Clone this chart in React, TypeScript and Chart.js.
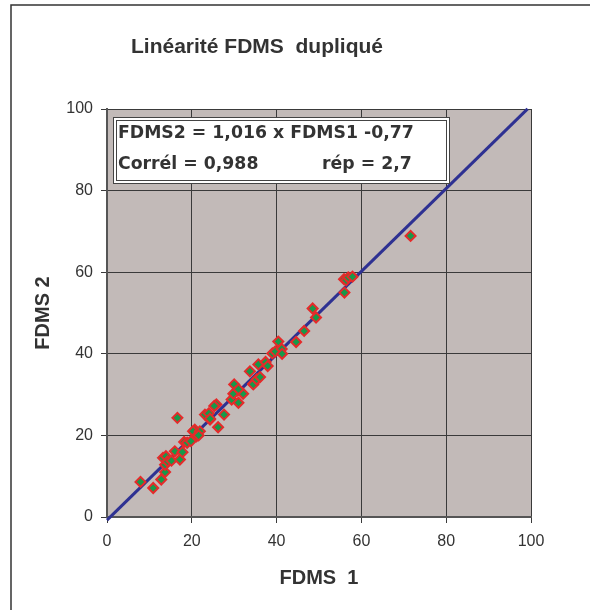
import React, { useEffect, useRef } from "react";
import { Chart, registerables } from "chart.js";

Chart.register(...registerables);

const fdms1: number[] = [7.9, 10.9, 12.8, 13.7, 13.7, 13.2, 13.9, 14.3, 15.2, 16.0, 17.2, 17.8, 16.6, 18.2, 18.9, 19.8, 20.7, 20.3, 21.1, 21.9, 21.6, 23.1, 24.3, 24.0, 25.8, 25.3, 26.2, 27.6, 24.3, 29.4, 31.0, 30.0, 30.7, 29.8, 32.1, 31.0, 34.5, 34.5, 35.3, 36.1, 33.7, 35.7, 37.4, 37.9, 39.0, 39.7, 40.4, 41.2, 41.3, 44.6, 46.5, 48.5, 49.3, 55.9, 56.4, 56.9, 57.9, 56.0, 71.6];
const fdms2: number[] = [8.6, 7.1, 9.2, 11.0, 12.8, 14.5, 14.9, 13.6, 13.8, 16.1, 14.1, 15.9, 24.3, 18.4, 18.2, 18.6, 21.4, 21.0, 19.8, 21.0, 20.0, 25.1, 23.9, 25.4, 27.6, 27.2, 22.0, 25.1, 24.1, 28.8, 28.0, 32.5, 31.0, 30.2, 30.2, 31.3, 32.7, 32.5, 33.7, 34.3, 35.7, 37.4, 38.0, 37.0, 40.1, 40.6, 43.0, 41.2, 40.0, 42.9, 45.6, 51.1, 48.9, 58.3, 58.0, 58.7, 58.9, 55.0, 68.9];

const slope = 1.016;
const intercept = -0.77;
const lineX: number[] = [0, 99.2];

const title = "Linéarité FDMS  dupliqué";
const xTitle = "FDMS  1";
const yTitle = "FDMS 2";
const boxLine1 = "FDMS2 = 1,016 x FDMS1 -0,77";
const boxLine2a = "Corrél = 0,988";
const boxLine2b = "rép = 2,7";
const axisTicks: number[] = [0, 20, 40, 60, 80, 100];

const decorPlugin = {
  id: "decor",
  beforeDraw(chart: any) {
    const ctx = chart.ctx;
    ctx.save();
    ctx.fillStyle = "#ffffff";
    ctx.fillRect(0, 0, chart.width, chart.height);
    ctx.strokeStyle = "#333333";
    ctx.lineWidth = 1.5;
    ctx.strokeRect(11, 5, 700, 700);
    const a = chart.chartArea;
    ctx.fillStyle = "#C2BAB8";
    ctx.fillRect(a.left, a.top, a.right - a.left, a.bottom - a.top);
    ctx.restore();
  },
  afterDraw(chart: any) {
    const ctx = chart.ctx;
    const a = chart.chartArea;
    ctx.save();
    ctx.fillStyle = "#333333";
    ctx.textAlign = "center";
    ctx.textBaseline = "middle";
    ctx.font = "bold 21px 'Liberation Sans', Arial, sans-serif";
    ctx.fillText(title, 257, 47);
    ctx.font = "bold 20px 'Liberation Sans', Arial, sans-serif";
    ctx.fillText(xTitle, (a.left + a.right) / 2, 578);
    ctx.translate(43, (a.top + a.bottom) / 2);
    ctx.rotate(-Math.PI / 2);
    ctx.fillText(yTitle, 0, 0);
    ctx.restore();

    // text box
    ctx.save();
    const bx = 113, by = 117, bw = 336, bh = 66;
    ctx.fillStyle = "#ffffff";
    ctx.fillRect(bx, by, bw, bh);
    ctx.strokeStyle = "#444444";
    ctx.lineWidth = 1;
    ctx.strokeRect(bx + 0.5, by + 0.5, bw, bh);
    ctx.strokeRect(bx + 3.5, by + 3.5, bw - 6, bh - 6);
    ctx.fillStyle = "#333333";
    ctx.font = "bold 17.3px 'DejaVu Sans', Verdana, sans-serif";
    ctx.textAlign = "left";
    ctx.textBaseline = "middle";
    ctx.fillText(boxLine1, 118, 134);
    ctx.fillText(boxLine2a, 118, 165);
    ctx.fillText(boxLine2b, 322, 165);
    ctx.restore();
  },
};

export default function App() {
  const ref = useRef<HTMLCanvasElement | null>(null);
  useEffect(() => {
    if (!ref.current) return;
    const points = fdms1.map((x, i) => ({ x, y: fdms2[i] }));
    const line = lineX.map((x) => ({ x, y: slope * x + intercept }));
    const chart = new Chart(ref.current, {
      type: "scatter",
      data: {
        datasets: [
          {
            type: "line",
            data: line,
            borderColor: "#2E3192",
            borderWidth: 3,
            pointRadius: 0,
            fill: false,
            order: 2,
            clip: false as any,
          },
          {
            data: points,
            pointStyle: "rectRot",
            pointRadius: 5,
            backgroundColor: "#17994A",
            borderColor: "#E52A2A",
            borderWidth: 2,
            order: 1,
          },
        ],
      },
      options: {
        responsive: false,
        animation: false,
        devicePixelRatio: 1,
        layout: { padding: { left: 47, top: 109, right: 59, bottom: 23 } },
        plugins: { legend: { display: false }, title: { display: false }, tooltip: { enabled: false } },
        scales: {
          x: {
            type: "linear",
            min: 0,
            max: 100,
            afterBuildTicks: (s: any) => { s.ticks = axisTicks.map((v) => ({ value: v })); },
            afterFit: (s: any) => { s.height = 70; },
            grid: { color: "#3a3a3a", lineWidth: 1, tickLength: 6, drawTicks: true },
            border: { display: true, color: "#555555", width: 2 },
            ticks: { color: "#333333", font: { family: "'Liberation Sans', Arial, sans-serif", size: 16 }, padding: 9, maxRotation: 0 },
          },
          y: {
            type: "linear",
            min: 0,
            max: 100,
            afterBuildTicks: (s: any) => { s.ticks = axisTicks.map((v) => ({ value: v })); },
            afterFit: (s: any) => { s.width = 60; },
            grid: { color: "#3a3a3a", lineWidth: 1, tickLength: 6, drawTicks: true },
            border: { display: true, color: "#555555", width: 2 },
            ticks: { color: "#333333", font: { family: "'Liberation Sans', Arial, sans-serif", size: 16 }, padding: 8 },
          },
        },
      },
      plugins: [decorPlugin],
    });
    return () => chart.destroy();
  }, []);
  return (
    <div style={{ position: "fixed", left: 0, top: 0, width: 590, height: 610 }}>
      <canvas ref={ref} width={590} height={610} style={{ width: 590, height: 610, display: "block" }} />
    </div>
  );
}
